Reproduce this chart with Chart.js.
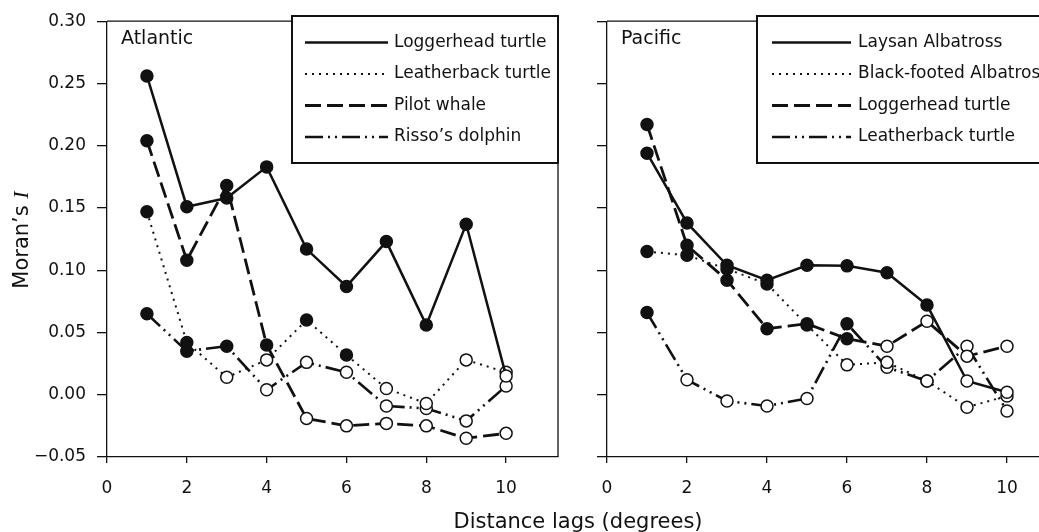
<!DOCTYPE html>
<html>
<head>
<meta charset="utf-8">
<script src="https://cdn.jsdelivr.net/npm/chart.js@4.4.1/dist/chart.umd.min.js"></script>
<style>
  html, body { margin: 0; padding: 0; background: #fff; overflow: hidden; }
  #wrap { position: relative; width: 1039px; height: 532px; }
  #wrap canvas { position: absolute; left: 0; top: 0; }
</style>
</head>
<body>
<div id="wrap">
  <canvas id="atlantic" width="1039" height="532"></canvas>
  <canvas id="pacific" width="1039" height="532"></canvas>
</div>
<script>
// distance lags (degrees)
const lags = [1, 2, 3, 4, 5, 6, 7, 8, 9, 10];
const xTickValues = [0, 2, 4, 6, 8, 10];
const yTickValues = [-0.05, 0, 0.05, 0.10, 0.15, 0.20, 0.25, 0.30];

// Atlantic, Moran's I per lag (sig: 1 = filled marker, 0 = open)
const atlLoggerhead = [0.256, 0.151, 0.158, 0.183, 0.117, 0.087, 0.123, 0.056, 0.137, 0.015];
const atlLoggerheadSig = [1, 1, 1, 1, 1, 1, 1, 1, 1, 0];
const atlLeatherback = [0.147, 0.042, 0.014, 0.028, 0.060, 0.032, 0.005, -0.007, 0.028, 0.018];
const atlLeatherbackSig = [1, 1, 0, 0, 1, 1, 0, 0, 0, 0];
const atlPilotWhale = [0.204, 0.108, 0.168, 0.040, -0.019, -0.025, -0.023, -0.025, -0.035, -0.031];
const atlPilotWhaleSig = [1, 1, 1, 1, 0, 0, 0, 0, 0, 0];
const atlRisso = [0.065, 0.035, 0.039, 0.004, 0.026, 0.018, -0.009, -0.011, -0.021, 0.007];
const atlRissoSig = [1, 1, 1, 0, 0, 0, 0, 0, 0, 0];

// Pacific
const pacLaysan = [0.194, 0.138, 0.104, 0.092, 0.104, 0.1035, 0.098, 0.072, 0.011, 0.002];
const pacLaysanSig = [1, 1, 1, 1, 1, 1, 1, 1, 0, 0];
const pacBlackFooted = [0.115, 0.112, 0.101, 0.089, 0.056, 0.024, 0.026, 0.011, -0.010, -0.001];
const pacBlackFootedSig = [1, 1, 1, 1, 1, 0, 0, 0, 0, 0];
const pacLoggerhead = [0.217, 0.120, 0.092, 0.053, 0.057, 0.045, 0.039, 0.059, 0.031, 0.039];
const pacLoggerheadSig = [1, 1, 1, 1, 1, 1, 0, 0, 0, 0];
const pacLeatherback = [0.066, 0.012, -0.005, -0.009, -0.003, 0.057, 0.022, 0.011, 0.039, -0.013];
const pacLeatherbackSig = [1, 0, 0, 0, 0, 1, 0, 0, 0, 0];

const FONT = '"DejaVu Sans", sans-serif';
const INK = '#111';

const SOLID = { width: 2.5, dash: [] };
const DOTTED = { width: 2, dash: [2, 5] };
const DASHED = { width: 2.8, dash: [16, 6] };
const DASHDOT = { width: 2.6, dash: [18, 5, 2, 5, 2, 5] };

function series(label, values, sig, style) {
  return {
    label: label,
    data: lags.map((x, i) => ({ x: x, y: values[i] })),
    borderColor: INK,
    borderWidth: style.width,
    borderDash: style.dash,
    pointRadius: 6,
    pointBorderWidth: 1.5,
    pointBorderColor: INK,
    pointBackgroundColor: sig.map(s => s ? INK : '#fff'),
    tension: 0,
    fill: false
  };
}

function fmt(v) {
  if (Math.abs(v) < 1e-9) v = 0;
  return (v < 0 ? '\u2212' : '') + Math.abs(v).toFixed(2);
}

function scales(xMax, yWidth, showYLabels) {
  const grid = { drawOnChartArea: false, drawTicks: true, color: INK, lineWidth: 1.3 };
  const border = { display: true, color: INK, width: 1.3 };
  return {
    x: {
      type: 'linear', min: 0, max: xMax,
      afterBuildTicks: s => { s.ticks = xTickValues.map(v => ({ value: v })); },
      afterFit: s => { s.height = 75; },
      grid: Object.assign({ tickLength: 6 }, grid),
      border: border,
      ticks: { color: INK, font: { family: FONT, size: 17 }, padding: 15, maxRotation: 0, autoSkip: false }
    },
    y: {
      type: 'linear', min: -0.05, max: 0.30,
      afterBuildTicks: s => { s.ticks = yTickValues.map(v => ({ value: v })); },
      afterFit: s => { s.width = yWidth; },
      grid: Object.assign({ tickLength: 10 }, grid),
      border: border,
      ticks: { color: INK, font: { family: FONT, size: 17 }, padding: 11,
        callback: v => showYLabels ? fmt(v) : '' }
    }
  };
}

// frame, panel name, legend box, axis titles
const panelDecor = {
  id: 'panelDecor',
  afterDatasetsDraw(chart, args, opts) {
    const ctx = chart.ctx;
    const a = chart.chartArea;
    ctx.save();
    ctx.strokeStyle = INK;
    ctx.lineWidth = 1.3;
    ctx.beginPath();
    ctx.moveTo(a.left, a.top);
    ctx.lineTo(a.right, a.top);
    if (opts.closeRight) ctx.lineTo(a.right, a.bottom);
    ctx.stroke();

    ctx.fillStyle = INK;
    ctx.font = '19px ' + FONT;
    ctx.textBaseline = 'alphabetic';
    ctx.fillText(opts.name, a.left + 14, a.top + 23);

    const b = opts.box;
    ctx.fillStyle = '#fff';
    ctx.fillRect(b.left, b.top, b.right - b.left, b.bottom - b.top);
    ctx.lineWidth = 2;
    ctx.strokeRect(b.left, b.top, b.right - b.left, b.bottom - b.top);
    chart.data.datasets.forEach((ds, i) => {
      const y = b.top + 26.5 + i * 31.5;
      ctx.setLineDash(ds.borderDash);
      ctx.lineWidth = ds.borderWidth;
      ctx.beginPath();
      ctx.moveTo(b.lineLeft, y);
      ctx.lineTo(b.lineRight, y);
      ctx.stroke();
      ctx.setLineDash([]);
      ctx.fillStyle = INK;
      ctx.font = '17px ' + FONT;
      ctx.textBaseline = 'middle';
      ctx.fillText(ds.label, b.textLeft, y);
    });

    if (opts.titles) {
      ctx.textBaseline = 'alphabetic';
      ctx.font = '21px ' + FONT;
      ctx.textAlign = 'center';
      ctx.fillText('Distance lags (degrees)', 578, 528);
      ctx.textAlign = 'left';
      // y title with italic I
      const p1 = 'Moran\u2019s ';
      ctx.font = '21px ' + FONT;
      const w1 = ctx.measureText(p1).width;
      ctx.font = 'italic 22px "Liberation Serif", serif';
      const w2 = ctx.measureText('I').width;
      ctx.translate(28, 240);
      ctx.rotate(-Math.PI / 2);
      ctx.font = '21px ' + FONT;
      ctx.fillText(p1, -(w1 + w2) / 2, 0);
      ctx.font = 'italic 22px "Liberation Serif", serif';
      ctx.fillText('I', -(w1 + w2) / 2 + w1, 0);
    }
    ctx.restore();
  }
};

const common = {
  responsive: false,
  animation: false,
  events: [],
  devicePixelRatio: 1,
  plugins: { legend: { display: false }, tooltip: { enabled: false } }
};

new Chart(document.getElementById('atlantic'), {
  type: 'line',
  data: {
    datasets: [
      series('Loggerhead turtle', atlLoggerhead, atlLoggerheadSig, SOLID),
      series('Leatherback turtle', atlLeatherback, atlLeatherbackSig, DOTTED),
      series('Pilot whale', atlPilotWhale, atlPilotWhaleSig, DASHED),
      series('Risso\u2019s dolphin', atlRisso, atlRissoSig, DASHDOT)
    ]
  },
  options: Object.assign({}, common, {
    layout: { autoPadding: false, padding: { left: 0, right: 481, top: 16, bottom: 0 } },
    scales: scales(11.3, 107, true),
    plugins: Object.assign({}, common.plugins, {
      panelDecor: {
        name: 'Atlantic', closeRight: true, titles: true,
        box: { left: 292, top: 16, right: 558, bottom: 163, lineLeft: 305, lineRight: 388, textLeft: 394 }
      }
    })
  }),
  plugins: [panelDecor]
});

new Chart(document.getElementById('pacific'), {
  type: 'line',
  data: {
    datasets: [
      series('Laysan Albatross', pacLaysan, pacLaysanSig, SOLID),
      series('Black-footed Albatross', pacBlackFooted, pacBlackFootedSig, DOTTED),
      series('Loggerhead turtle', pacLoggerhead, pacLoggerheadSig, DASHED),
      series('Leatherback turtle', pacLeatherback, pacLeatherbackSig, DASHDOT)
    ]
  },
  options: Object.assign({}, common, {
    layout: { autoPadding: false, padding: { left: 570, right: 0, top: 16, bottom: 0 } },
    scales: scales(10.8, 37, false),
    plugins: Object.assign({}, common.plugins, {
      panelDecor: {
        name: 'Pacific', closeRight: false, titles: false,
        box: { left: 757, top: 16, right: 1050, bottom: 163, lineLeft: 772, lineRight: 851, textLeft: 858 }
      }
    })
  }),
  plugins: [panelDecor]
});
</script>
</body>
</html>
